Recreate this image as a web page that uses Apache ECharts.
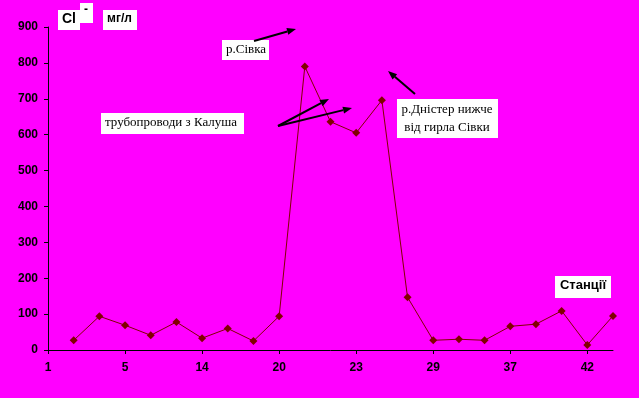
<!DOCTYPE html>
<html><head><meta charset="utf-8">
<script src="https://cdn.jsdelivr.net/npm/echarts@6/dist/echarts.min.js"></script>
<style>html,body{margin:0;padding:0;background:#FF00FF;}#c{width:639px;height:398px;}</style>
</head><body><div id="c"></div>
<script>
var stations = ['1','','','5','','','14','','','20','','','23','','','29','','','37','','','42',''];
var chloride = [null,27,94,69,41,78,33,60,25,94,790,636,605,696,147,27,30,27,66,72,109,14,95];
var yTicks = [0,900,100];

var chart = echarts.init(document.getElementById('c'));
function box(x,y,w,h){return {type:'rect',shape:{x:x,y:y,width:w,height:h},style:{fill:'#fff'},z:50};}
function txt(x,y,t,font,align,lh){var s={text:t,font:font,fill:'#000',align:align||'left',verticalAlign:'top'};if(lh)s.lineHeight=lh;return {type:'text',x:x,y:y,style:s,z:51};}
function arrow(x1,y1,x2,y2){
  var a=Math.atan2(y2-y1,x2-x1), L=9, W=3.5;
  var bx=x2-L*Math.cos(a), by=y2-L*Math.sin(a);
  var px=-Math.sin(a)*W, py=Math.cos(a)*W;
  return [
    {type:'line',shape:{x1:x1,y1:y1,x2:bx,y2:by},style:{stroke:'#000',lineWidth:2},z:52},
    {type:'polygon',shape:{points:[[x2,y2],[bx+px,by+py],[bx-px,by-py]]},style:{fill:'#000'},z:52}
  ];
}
var serif='13px "Liberation Serif"';
var g=[
  box(58,10,22,20), txt(62,12,'Cl','bold 14px "Liberation Sans"'),
  box(80,3,13,20), txt(84,4,'-','bold 12px "Liberation Sans"'),
  box(103,10,34,20), txt(107,13,'мг/л','bold 12px "Liberation Sans"'),
  box(222,40,47,20), txt(226,43,'р.Сівка',serif),
  box(101,113,143,21), txt(105,116,'трубопроводи з Калуша',serif),
  box(397,99,101,39), txt(447,101,'р.Дністер нижче\nвід гирла Сівки',serif,'center',18),
  box(555,276,56,22), txt(583,279,'Станції','bold 13px "Liberation Sans"','center')
];
g=g.concat(arrow(254,41,296,29), arrow(278,126,329,99), arrow(278,126,352,108), arrow(415,94,388,71));

chart.setOption({
  backgroundColor:'#FF00FF',
  animation:false,
  grid:{left:48,right:26,top:27,bottom:48},
  xAxis:{type:'category',data:stations,boundaryGap:false,
    axisLine:{lineStyle:{color:'#000',width:1}},
    axisTick:{interval:2,length:4,lineStyle:{color:'#000'}},
    axisLabel:{interval:2,color:'#000',fontWeight:'bold',fontSize:12,fontFamily:'Liberation Sans',margin:12},
    splitLine:{show:false}},
  yAxis:{type:'value',min:yTicks[0],max:yTicks[1],interval:yTicks[2],
    axisLine:{show:true,lineStyle:{color:'#000',width:1}},
    axisTick:{show:true,length:4,lineStyle:{color:'#000'}},
    axisLabel:{color:'#000',fontWeight:'bold',fontSize:12,fontFamily:'Liberation Sans',margin:10},
    splitLine:{show:false}},
  series:[{type:'line',data:chloride,connectNulls:false,
    symbol:'diamond',symbolSize:8,
    lineStyle:{color:'#800000',width:1},
    itemStyle:{color:'#800000'}}],
  graphic:g
});
</script></body></html>
